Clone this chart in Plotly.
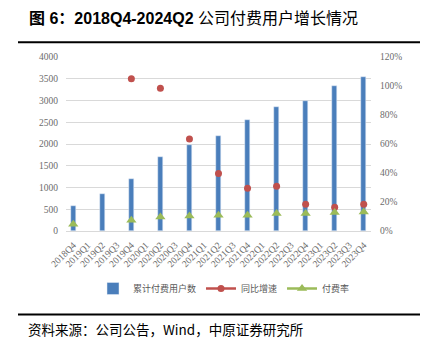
import plotly.graph_objects as go

quarters = ["2018Q4", "2019Q1", "2019Q2", "2019Q3", "2019Q4", "2020Q1", "2020Q2",
            "2020Q3", "2020Q4", "2021Q1", "2021Q2", "2021Q3", "2021Q4", "2022Q1",
            "2022Q2", "2022Q3", "2022Q4", "2023Q1", "2023Q2", "2023Q3", "2023Q4"]
data_quarters = ["2018Q4", "2019Q2", "2019Q4", "2020Q2", "2020Q4", "2021Q2",
                 "2021Q4", "2022Q2", "2022Q4", "2023Q2", "2023Q4"]
paid_users = [585, 860, 1200, 1690, 1970, 2180, 2550, 2860, 3000, 3340, 3550]
yoy_growth = [None, None, 1.05, 0.985, 0.635, 0.397, 0.295, 0.309, 0.185, 0.164, 0.185]
pay_rate = [0.046, None, 0.074, 0.097, 0.104, 0.109, 0.109, 0.120, 0.120, 0.127, 0.131]
left_ticks = [0, 500, 1000, 1500, 2000, 2500, 3000, 3500, 4000]
right_ticks = [0, 0.2, 0.4, 0.6, 0.8, 1.0, 1.2]

title_html = "<b>图 6：2018Q4-2024Q2</b> 公司付费用户增长情况"
source_text = "资料来源：公司公告，Wind，中原证券研究所"

W, H = 426, 353
L, R, T, B = 66, 371, 57.3, 230.7


def px(x):
    return (x - L) / (R - L)


def py(y):
    return (B - y) / (B - T)


pos = [quarters.index(q) for q in data_quarters]


def full(vals):
    arr = [None] * len(quarters)
    for p, v in zip(pos, vals):
        arr[p] = v
    return arr


xs = list(range(len(quarters)))
tick_font = dict(family="Liberation Serif", size=9.5, color="#6b6b6b")

fig = go.Figure()
fig.add_trace(go.Bar(x=pos, y=paid_users, name="累计付费用户数", marker_color="#4A7EBB",
                     width=0.36, yaxis="y"))
fig.add_trace(go.Scatter(x=xs, y=full(yoy_growth), name="同比增速", mode="lines+markers",
                         connectgaps=False, line=dict(color="#C0504D", width=2.5),
                         marker=dict(symbol="circle", size=7, color="#C0504D"), yaxis="y2"))
fig.add_trace(go.Scatter(x=xs, y=full(pay_rate), name="付费率", mode="lines+markers",
                         connectgaps=False, line=dict(color="#9BBB59", width=2.5),
                         marker=dict(symbol="triangle-up", size=9, color="#9BBB59"), yaxis="y2"))

fig.update_layout(
    width=W, height=H, autosize=False,
    margin=dict(l=L, r=W - R, t=T, b=H - B, pad=0),
    paper_bgcolor="white", plot_bgcolor="white",
    showlegend=True,
    legend=dict(orientation="h", x=px(224), xanchor="center", y=py(288), yanchor="middle",
                font=dict(family="Noto Sans CJK SC", size=9, color="#595959"),
                itemwidth=30, tracegroupgap=0, bgcolor="rgba(0,0,0,0)"),
    xaxis=dict(range=[-0.5, len(quarters) - 0.5], tickmode="array", tickvals=xs,
               ticktext=quarters, tickangle=-45, tickfont=tick_font, showgrid=False,
               showline=True, linecolor="#D9D9D9", linewidth=1, ticks="", zeroline=False,
               ticklabelstandoff=4),
    yaxis=dict(range=[0, 4000], tickmode="array", tickvals=left_ticks, tickfont=tick_font,
               showgrid=True, gridcolor="#D9D9D9", gridwidth=1, zeroline=False,
               ticks="", ticklabelstandoff=7, showline=False),
    yaxis2=dict(range=[0, 1.2], tickmode="array", tickvals=right_ticks, tickformat=".0%",
                overlaying="y", side="right", tickfont=tick_font, showgrid=False,
                zeroline=False, ticks="", ticklabelstandoff=8, showline=False),
    font=dict(family="Noto Sans CJK SC"),
    bargap=0,
)

fig.add_annotation(text=title_html, xref="paper", yref="paper", x=px(27), y=py(19),
                   xanchor="left", yanchor="middle", showarrow=False,
                   font=dict(family="Liberation Sans, Noto Sans CJK SC", size=16, color="black"))
fig.add_annotation(text=source_text, xref="paper", yref="paper", x=px(26), y=py(328),
                   xanchor="left", yanchor="middle", showarrow=False,
                   font=dict(family="Noto Sans CJK SC", size=13.5, color="black"))
for yline in (42.7, 314):
    fig.add_shape(type="line", xref="paper", yref="paper", x0=px(18), x1=px(420),
                  y0=py(yline), y1=py(yline), line=dict(color="black", width=2))

fig.write_html("out.html")
